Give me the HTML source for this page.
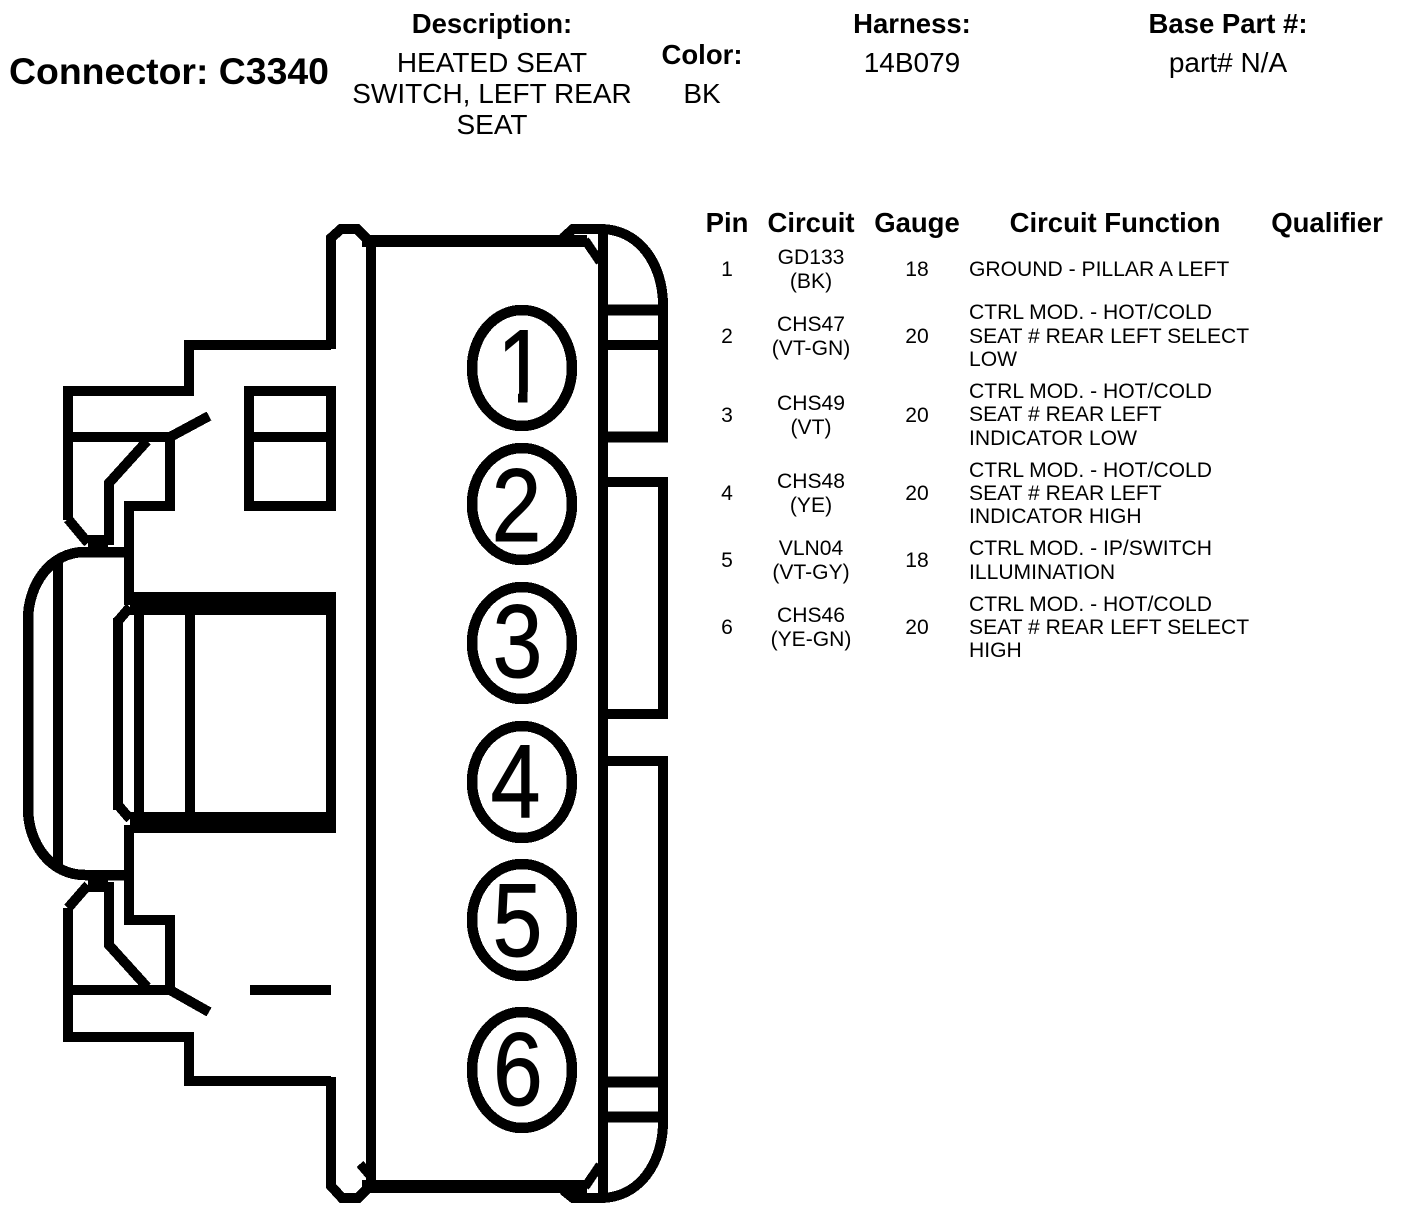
<!DOCTYPE html>
<html><head><meta charset="utf-8"><style>
html,body{margin:0;padding:0;background:#fff}
svg{display:block}
text{font-family:"Liberation Sans",Arial,sans-serif;fill:#000}
.b{font-weight:bold}
.h{font-size:27.5px;font-weight:bold}
.t{font-size:28px}
.s{font-size:21.1px}
.m{text-anchor:middle}
.d{font-size:104px;stroke:#000;stroke-width:1}
path,line,ellipse{fill:none;stroke:#000;shape-rendering:crispEdges}
</style></head><body>
<svg width="1408" height="1220" viewBox="0 0 1408 1220" xmlns="http://www.w3.org/2000/svg">
<text x="9" y="84" class="b" style="font-size:37.4px">Connector: C3340</text>
<text x="492" y="33" class="h m">Description:</text>
<text x="492" y="72" class="t m">HEATED SEAT</text>
<text x="492" y="103" class="t m">SWITCH, LEFT REAR</text>
<text x="492" y="134" class="t m">SEAT</text>
<text x="702" y="64" class="h m">Color:</text>
<text x="702" y="103" class="t m">BK</text>
<text x="912" y="33" class="h m">Harness:</text>
<text x="912" y="72" class="t m">14B079</text>
<text x="1228" y="33" class="h m">Base Part #:</text>
<text x="1228" y="72" class="t m">part# N/A</text>

<text x="727" y="232" class="h m">Pin</text>
<text x="811" y="232" class="h m">Circuit</text>
<text x="917" y="232" class="h m">Gauge</text>
<text x="1115" y="232" class="h m">Circuit Function</text>
<text x="1327" y="232" class="h m">Qualifier</text>

<text x="727" y="276" class="s m">1</text><text x="811" y="264" class="s m">GD133</text><text x="811" y="288" class="s m">(BK)</text><text x="917" y="276" class="s m">18</text>
<text x="969" y="276" class="s">GROUND - PILLAR A LEFT</text>
<text x="727" y="343" class="s m">2</text><text x="811" y="331" class="s m">CHS47</text><text x="811" y="355" class="s m">(VT-GN)</text><text x="917" y="343" class="s m">20</text>
<text x="969" y="319" class="s">CTRL MOD. - HOT/COLD</text><text x="969" y="343" class="s">SEAT # REAR LEFT SELECT</text><text x="969" y="366" class="s">LOW</text>
<text x="727" y="422" class="s m">3</text><text x="811" y="410" class="s m">CHS49</text><text x="811" y="434" class="s m">(VT)</text><text x="917" y="422" class="s m">20</text>
<text x="969" y="398" class="s">CTRL MOD. - HOT/COLD</text><text x="969" y="421" class="s">SEAT # REAR LEFT</text><text x="969" y="445" class="s">INDICATOR LOW</text>
<text x="727" y="500" class="s m">4</text><text x="811" y="488" class="s m">CHS48</text><text x="811" y="512" class="s m">(YE)</text><text x="917" y="500" class="s m">20</text>
<text x="969" y="477" class="s">CTRL MOD. - HOT/COLD</text><text x="969" y="500" class="s">SEAT # REAR LEFT</text><text x="969" y="523" class="s">INDICATOR HIGH</text>
<text x="727" y="567" class="s m">5</text><text x="811" y="555" class="s m">VLN04</text><text x="811" y="579" class="s m">(VT-GY)</text><text x="917" y="567" class="s m">18</text>
<text x="969" y="555" class="s">CTRL MOD. - IP/SWITCH</text><text x="969" y="579" class="s">ILLUMINATION</text>
<text x="727" y="634" class="s m">6</text><text x="811" y="622" class="s m">CHS46</text><text x="811" y="646" class="s m">(YE-GN)</text><text x="917" y="634" class="s m">20</text>
<text x="969" y="611" class="s">CTRL MOD. - HOT/COLD</text><text x="969" y="634" class="s">SEAT # REAR LEFT SELECT</text><text x="969" y="657" class="s">HIGH</text>

<!-- main body -->
<g stroke-width="10">
<path d="M371 236V1192"/>
<path d="M603 232V1195"/>
<path d="M362 241H587" stroke-width="12"/>
<path d="M362 1186.5H587" stroke-width="13"/>
<path d="M585 240L600 262" stroke-width="9"/>
<path d="M600 1165L585 1187" stroke-width="9"/>
<path d="M360 1164L372 1178" stroke-width="9"/>
<!-- left bump top / bottom -->
<path d="M331 349V238L341 229H357L368 240"/>
<path d="M331 1077V1186L342 1198H358L368 1188"/>
<!-- right arcs -->
<path d="M563 238L573 229H600C640 229 663 265 663 305V442"/>
<path d="M563 1190L573 1198H600C640 1198 663 1162 663 1122V1082"/>
<path d="M603 310H663" stroke-width="11"/>
<path d="M603 345H663"/>
<path d="M603 437H668" stroke-width="11"/>
<!-- middle right rect -->
<path d="M603 482H663V714H603"/>
<path d="M603 761H663V1122"/>
<path d="M603 1082H663" stroke-width="11"/>
<path d="M603 1117H663" stroke-width="11"/>
<!-- upper left structure -->
<path d="M331 345H189V391H68V520"/>
<path d="M68 437H170V506H129V605"/>
<path d="M170 437L209 416"/>
<path d="M147 441L109 483V545"/>
<path d="M68 519L88 543"/>
<path d="M88 541H108" stroke-width="12"/>
<!-- lower left structure -->
<path d="M331 1081H189V1037H68V908"/>
<path d="M68 990H170V920H129V825"/>
<path d="M170 990L209 1012"/>
<path d="M147 987L109 945V882"/>
<path d="M68 908L88 885"/>
<path d="M88 886H108" stroke-width="12"/>
<!-- nose -->
<path d="M129 552H85C50 552 28 585 28 620V808C28 843 50 875 85 875H129" stroke-width="10.5"/>
<path d="M58 560V865"/>
<!-- inner housing -->
<path d="M130 603.5H336" stroke-width="23"/>
<path d="M130 822.5H336" stroke-width="21"/>
<path d="M139 610V815"/>
<path d="M190 610V815"/>
<path d="M331 610V815"/>
<path d="M118 618V810"/>
<path d="M118 621L130 607"/>
<path d="M118 805L130 819"/>
<!-- window -->
<path d="M249 391H331V506H249Z"/>
<path d="M249 437H331"/>
<path d="M250 990H331"/>
</g>
<!-- pin circles -->
<g stroke-width="10.5">
<ellipse cx="522" cy="368" rx="50" ry="58"/>
<ellipse cx="522" cy="504" rx="50" ry="56"/>
<ellipse cx="522" cy="643" rx="50" ry="56"/>
<ellipse cx="522" cy="782" rx="50" ry="56"/>
<ellipse cx="522" cy="920" rx="50" ry="56"/>
<ellipse cx="522" cy="1070" rx="50" ry="58"/>
</g>
<text transform="translate(497 402) scale(.86 1)" class="d">1</text>
<rect x="490" y="392" width="28" height="13" fill="#fff"/>
<rect x="527.5" y="392" width="22" height="13" fill="#fff"/>
<text transform="translate(491.6 541) scale(.86 1)" class="d">2</text>
<text transform="translate(492.6 677) scale(.86 1)" class="d">3</text>
<text transform="translate(490.6 817) scale(.86 1)" class="d">4</text>
<text transform="translate(492.6 956) scale(.86 1)" class="d">5</text>
<text transform="translate(493 1105) scale(.86 1)" class="d">6</text>
</svg>
</body></html>
